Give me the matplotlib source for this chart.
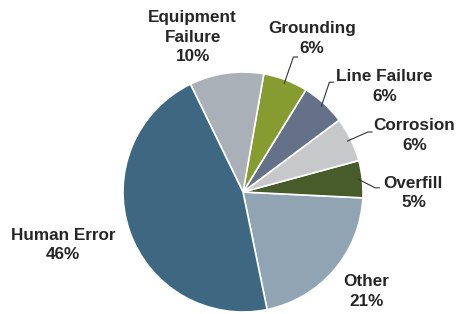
import numpy as np
import matplotlib
matplotlib.use("Agg")
from matplotlib import pyplot as plt

# data, drawn counter-clockwise starting from the Other / Human Error border
labels = ["Other", "Overfill", "Corrosion", "Line Failure", "Grounding",
          "Equipment\nFailure", "Human Error"]
values = [21, 5, 6, 6, 6, 10, 46]
colors = ["#91a4b4", "#485b2b", "#c6c8ca", "#647189", "#869b30",
          "#a9b0b7", "#3e6781"]

# label centres (pie radius = 1) and which ones get a leader line
label_pos = [(1.03, -0.83), (1.42, -0.01), (1.43, 0.47), (1.18, 0.88),
             (0.575, 1.28), (-0.42, 1.29), (-1.5, -0.44)]
leaders = {1: (1.10, 0.035), 2: (1.04, 0.50), 3: (0.72, 0.915), 4: (0.42, 1.125)}

plt.rcParams['font.family'] = ['Liberation Sans', 'DejaVu Sans']

fig = plt.figure(figsize=(4.61, 3.14), dpi=100)
ax = fig.add_axes([0, 0, 1, 1])

wedges, _ = ax.pie(values, colors=colors, startangle=-78.4, counterclock=True,
                   wedgeprops=dict(edgecolor="white", linewidth=1.2))

ax.set_aspect('auto')
ax.set_xlim(-243 / 120, (461 - 243) / 120)
ax.set_ylim(-122 / 120, 192 / 120)
ax.axis('off')

for i, w in enumerate(wedges):
    txt = "%s\n%d%%" % (labels[i], values[i])
    ax.text(label_pos[i][0], label_pos[i][1], txt, ha='center', va='center',
            fontsize=12.3, fontweight='bold', color='#262626', linespacing=1.38)
    if i in leaders:
        mid = np.deg2rad((w.theta1 + w.theta2) / 2)
        x0, y0 = 0.97 * np.cos(mid), 0.97 * np.sin(mid)
        x1, y1 = leaders[i]
        ax.plot([x0, x1, x1 + 0.035], [y0, y1, y1], color='#333333', lw=0.8)

fig.savefig("out.png", dpi=100)
